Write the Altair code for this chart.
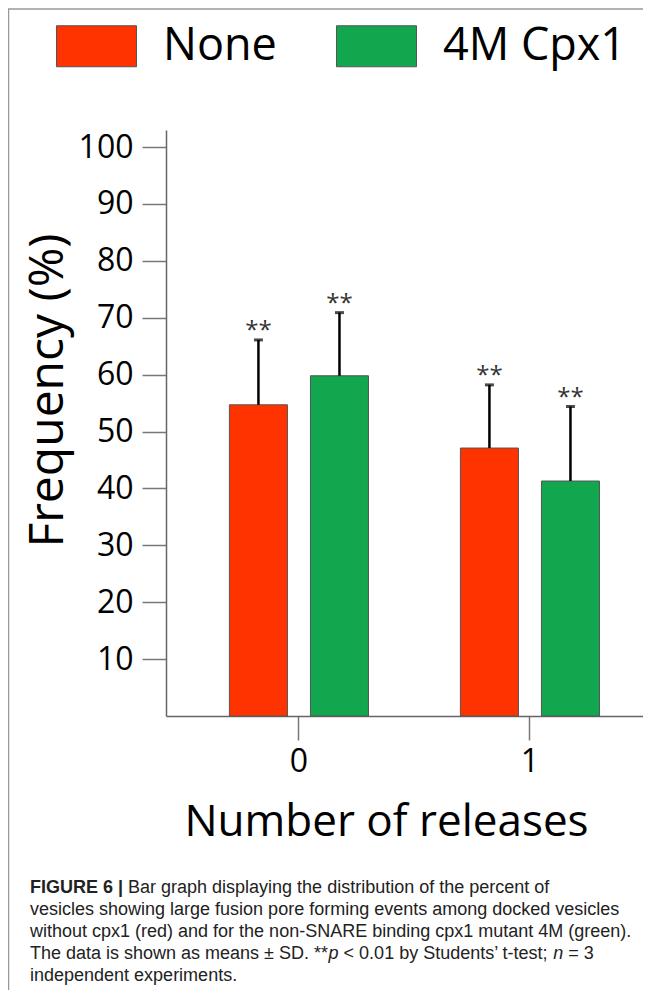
import altair as alt
import pandas as pd

releases = ["0", "0", "1", "1"]
conditions = ["None", "4M Cpx1", "None", "4M Cpx1"]
means = [54.7, 59.8, 47.1, 41.3]
sds = [11.4, 11.1, 11.1, 13.1]
stars = ["**", "**", "**", "**"]
y_ticks = [10, 20, 30, 40, 50, 60, 70, 80, 90, 100]
series_order = ["None", "4M Cpx1"]
series_colors = ["#FF3300", "#12A64E"]

caption_lines = [
    "vesicles showing large fusion pore forming events among docked vesicles",
    "without cpx1 (red) and for the non-SNARE binding cpx1 mutant 4M (green).",
    "independent experiments.",
]

df = pd.DataFrame({
    "releases": releases,
    "condition": conditions,
    "mean": means,
    "sd": sds,
    "stars": stars,
})
df["upper"] = df["mean"] + df["sd"]

FONT = "Open Sans"
CAP_FONT = "Liberation Sans"

x_enc = alt.X(
    "releases:N",
    scale=alt.Scale(paddingInner=0.398, paddingOuter=0.2315, align=0.593),
    axis=alt.Axis(
        title="Number of releases", titleFont=FONT, titleFontSize=44, titleFontWeight="normal",
        titleColor="black", titleX=220, titleY=119, titleAlign="center", titleBaseline="alphabetic",
        labelFont=FONT, labelFontSize=32, labelColor="black", labelAngle=0, labelPadding=6,
        tickSize=24, tickColor="#777", tickWidth=1.5, domainColor="#666", domainWidth=1.5,
        grid=False,
    ),
)
xoff = alt.XOffset("condition:N", sort=series_order,
                   scale=alt.Scale(paddingInner=0.284, paddingOuter=0))

y_scale = alt.Scale(domain=[0, 103], nice=False)

bars = alt.Chart(df).mark_bar(stroke="#555", strokeWidth=1).encode(
    x=x_enc,
    xOffset=xoff,
    y=alt.Y(
        "mean:Q", scale=y_scale,
        axis=alt.Axis(
            values=y_ticks, title="Frequency (%)", titleFont=FONT, titleFontSize=48,
            titleFontWeight="normal", titleColor="black", titleAngle=270, titleX=-104, titleY=260,
            titleAlign="center", titleBaseline="alphabetic",
            labelFont=FONT, labelFontSize=32, labelColor="black", labelPadding=9,
            tickSize=24, tickColor="#777", tickWidth=1.5, domainColor="#666", domainWidth=1.5,
            grid=False,
        ),
    ),
    color=alt.Color(
        "condition:N", sort=series_order,
        scale=alt.Scale(domain=series_order, range=series_colors),
        legend=alt.Legend(
            orient="none", legendX=-110, legendY=-124.5, direction="horizontal", title=None,
            symbolType="M-1,-0.5125H1V0.5125H-1Z", symbolSize=6400, symbolStrokeColor="#555",
            symbolStrokeWidth=1, symbolOpacity=1, labelFont=FONT, labelFontSize=45, labelColor="black",
            labelOffset=26, columnPadding=57, padding=0, labelLimit=400,
        ),
    ),
)

err = alt.Chart(df).mark_rule(color="black", strokeWidth=2.5).encode(
    x="releases:N", xOffset=xoff, y=alt.Y("mean:Q", scale=y_scale), y2="upper:Q"
)
caps = alt.Chart(df).mark_tick(color="black", thickness=3, size=9, orient="horizontal").encode(
    x="releases:N", xOffset=xoff, y=alt.Y("upper:Q", scale=y_scale)
)
star_txt = alt.Chart(df).mark_text(font=FONT, fontSize=24, color="#333", baseline="alphabetic", dy=-2).encode(
    x="releases:N", xOffset=xoff, y=alt.Y("upper:Q", scale=y_scale), text="stars:N"
)

one = pd.DataFrame({"k": [0]})
frame_left = alt.Chart(one).mark_rule(color="#999", strokeWidth=1.5).encode(
    x=alt.value(-157.5), y=alt.value(-121), y2=alt.value(870)
)
frame_top = alt.Chart(one).mark_rule(color="#999", strokeWidth=1.5).encode(
    x=alt.value(-158), x2=alt.value(485), y=alt.value(-121)
)


def seg(text, x, y, weight="normal", style="normal"):
    return alt.Chart(pd.DataFrame({"t": [text]})).mark_text(
        font=CAP_FONT, fontSize=18, color="#222", align="left", baseline="alphabetic",
        fontWeight=weight, fontStyle=style,
    ).encode(text="t:N", x=alt.value(x), y=alt.value(y))


X0 = -136
base = [763, 785, 807, 829, 851]
caption = [
    seg("FIGURE 6 |", X0, base[0], weight="bold"),
    seg("Bar graph displaying the distribution of the percent of", -38, base[0]),
    seg(caption_lines[0], X0, base[1]),
    seg(caption_lines[1], X0, base[2]),
    seg("The data is shown as means ± SD. **", X0, base[3]),
    seg("p", 162.6, base[3], style="italic"),
    seg("< 0.01 by Students’ t-test;", 177.6, base[3]),
    seg("n", 387.2, base[3], style="italic"),
    seg("= 3", 402.2, base[3]),
    seg(caption_lines[2], X0, base[4]),
]

chart = alt.layer(bars, err, caps, star_txt, frame_left, frame_top, *caption).properties(
    width=477, height=586,
    autosize=alt.AutoSizeParams(type="none"),
    padding={"left": 158, "top": 122, "right": 0, "bottom": 274},
    background="white",
).configure_view(stroke=None)

chart.save("out.html", embed_options={"renderer": "svg", "actions": False})
